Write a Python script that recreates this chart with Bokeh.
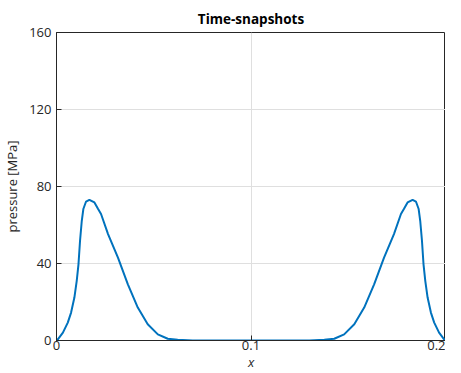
from bokeh.plotting import figure
from bokeh.models import Range1d, FixedTicker
from bokeh.embed import file_html
from bokeh.resources import INLINE

# data
x_vals = [0, 0.0007, 0.0033, 0.0058, 0.0075, 0.0092, 0.0104, 0.0113, 0.0121, 0.0130,
          0.0138, 0.0152, 0.0169, 0.0195, 0.0214, 0.0229, 0.0265, 0.0316, 0.0367,
          0.0418, 0.0469, 0.0521, 0.0572, 0.0623, 0.07,
          0.10,
          0.13, 0.1377, 0.1428, 0.1479, 0.1531, 0.1582, 0.1633, 0.1684, 0.1735,
          0.1771, 0.1786, 0.1805, 0.1831, 0.1848, 0.1862, 0.1870, 0.1879, 0.1887,
          0.1896, 0.1908, 0.1925, 0.1942, 0.1967, 0.1993, 0.2]
p_vals = [0, 0.6, 4.1, 9.3, 14.5, 22.3, 31.0, 39.6, 51.8, 62.2,
          68.3, 72.2, 73.1, 71.7, 68.3, 65.7, 55.3, 43.1, 29.2,
          17.1, 8.4, 3.2, 0.9, 0.4, 0,
          0,
          0, 0.4, 0.9, 3.2, 8.4, 17.1, 29.2, 43.1, 55.3,
          65.7, 68.3, 71.7, 73.1, 72.2, 68.3, 62.2, 51.8, 39.6,
          31.0, 22.3, 14.5, 9.3, 4.1, 0.6, 0]
x_ticks = [0, 0.1, 0.2]
x_tick_labels = {0: "0", 0.1: "0.1", 0.2: "0.2"}
y_ticks = [0, 40, 80, 120, 160]
title_text = "Time-snapshots"
x_label_text = "x"
y_label_text = "pressure [MPa]"

FONT = "Open Sans"
DARK = "#262626"

p = figure(width=445, height=373, output_backend="svg", toolbar_location=None,
           x_range=Range1d(0, 0.2), y_range=Range1d(0, 160),
           min_border_left=0, min_border_right=0, min_border_top=32, min_border_bottom=0)

p.title.text = title_text
p.title.align = "center"
p.title.text_font = FONT
p.title.text_font_size = "13.5px"
p.title.text_font_style = "bold"
p.title.text_color = "black"
p.title.offset = 0
p.title.standoff = 10

p.outline_line_color = DARK
p.outline_line_width = 1
p.outline_line_alpha = 1

for ax in (p.xaxis[0], p.yaxis[0]):
    ax.axis_line_color = DARK
    ax.major_tick_line_color = DARK
    ax.major_tick_in = 5
    ax.major_tick_out = 0
    ax.minor_tick_line_color = None
    ax.major_label_text_font = FONT
    ax.major_label_text_font_size = "13px"
    ax.major_label_text_color = DARK
    ax.axis_label_text_font = FONT
    ax.axis_label_text_font_size = "13px"
    ax.axis_label_text_color = DARK

p.xaxis.ticker = FixedTicker(ticks=x_ticks)
p.xaxis.major_label_overrides = x_tick_labels
p.xaxis.major_label_standoff = 0
p.xaxis.axis_label = x_label_text
p.xaxis.axis_label_text_font_style = "italic"
p.xaxis.axis_label_standoff = 0
p.yaxis.ticker = FixedTicker(ticks=y_ticks)
p.yaxis.axis_label = y_label_text
p.yaxis.axis_label_text_font_style = "normal"
p.yaxis.axis_label_standoff = 5
p.yaxis.major_label_standoff = 5

p.xgrid.ticker = FixedTicker(ticks=x_ticks)
p.ygrid.ticker = FixedTicker(ticks=y_ticks)
p.grid.grid_line_color = "#dfdfdf"
p.grid.grid_line_alpha = 1
p.grid.grid_line_width = 1

p.line(x_vals, p_vals, line_color="#0072BD", line_width=2)

open("out.html", "w").write(file_html(p, INLINE))
